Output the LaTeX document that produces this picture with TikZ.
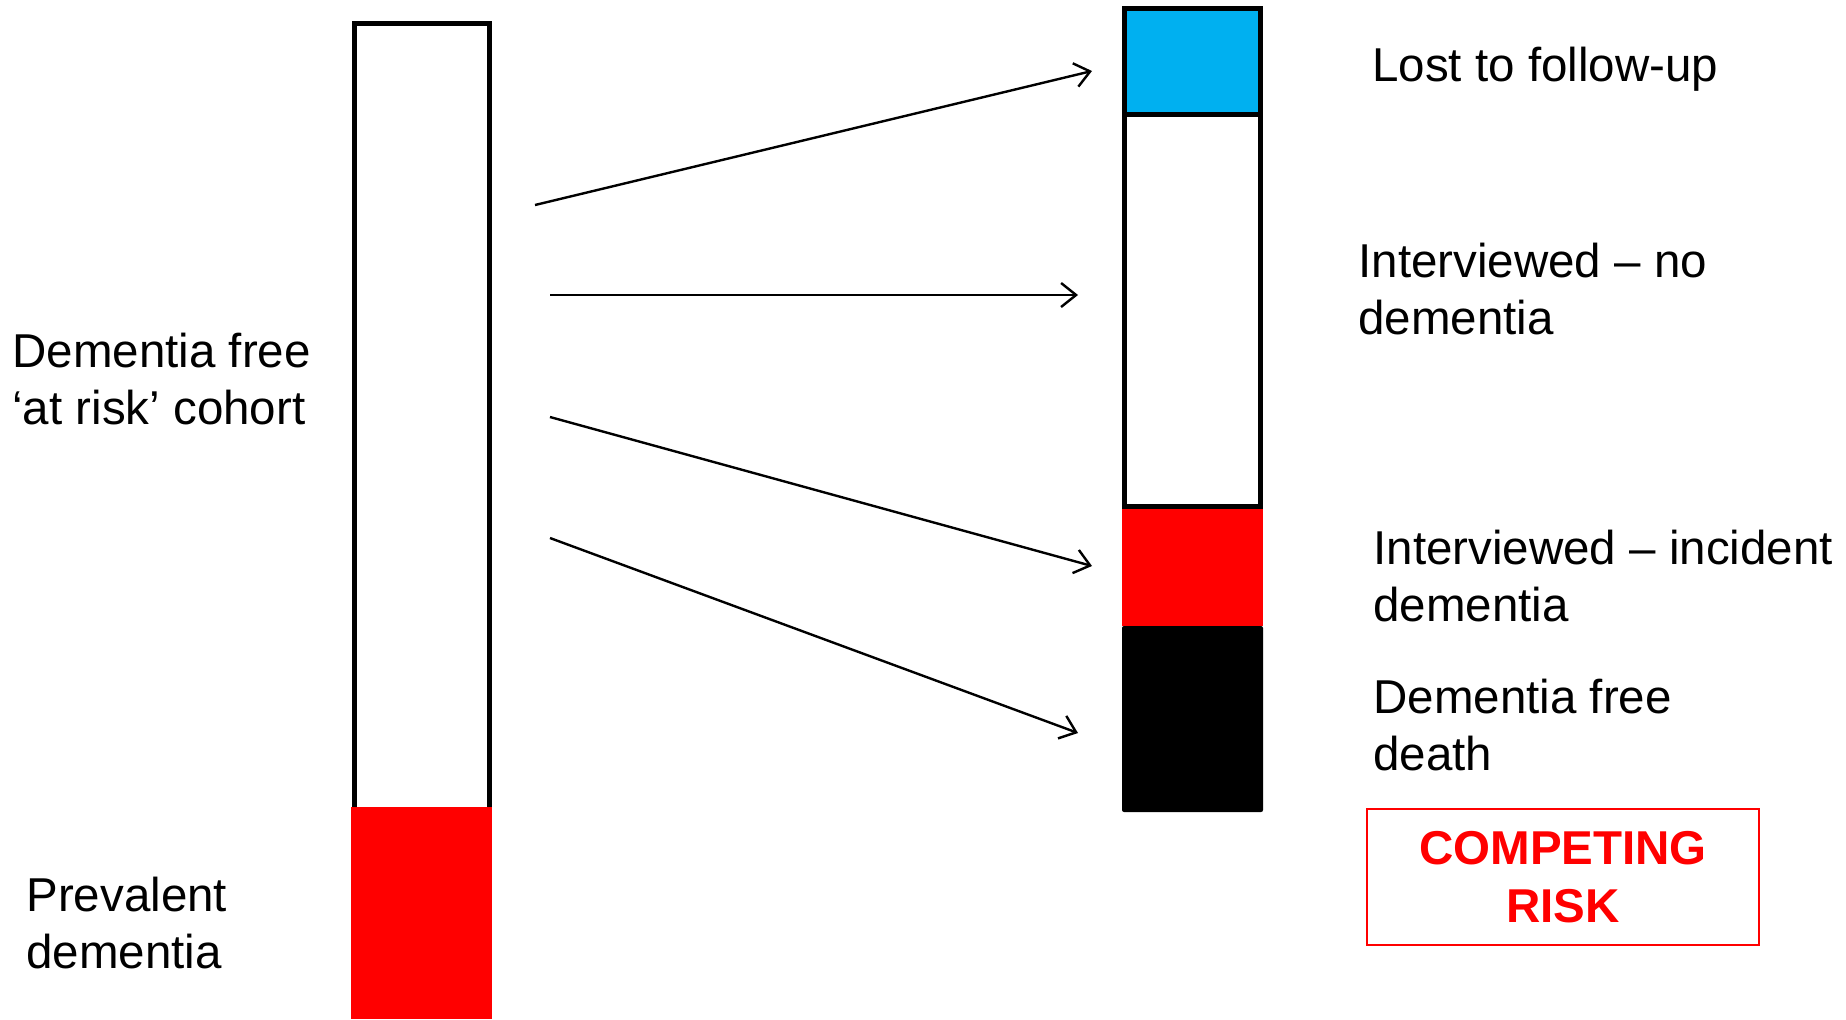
\documentclass[tikz,border=0pt]{standalone}
\usepackage{fontspec}
\setmainfont{Liberation Sans}
\usetikzlibrary{arrows.meta}
\definecolor{lostblue}{HTML}{00B0F0}
\definecolor{pptred}{HTML}{FF0000}
\tikzset{
  % anchored on the baseline of the last line of the label
  label text/.style={anchor=base west, inner sep=0pt, align=left,
    font=\fontsize{23.75}{28.5}\selectfont},
  barframe/.style={draw=black, line width=2.5pt},
  flow/.style={line width=1.2pt, -{Straight Barb[length=7.5pt,width=12pt,line width=1.2pt]}},
  riskbox/.style={draw=pptred, line width=1pt, minimum width=196pt,
    minimum height=68pt, inner sep=0pt}
}
\begin{document}
\begin{tikzpicture}[x=0.5pt, y=-0.5pt]
  \useasboundingbox (0,0) rectangle (1846,1019);

  % cohort bar at baseline: at-risk part and prevalent cases
  \draw[barframe, fill=white] (354.5,23.5) rectangle (489.5,812);
  \fill[pptred] (351,807) rectangle (492,1019);

  % follow-up bar: outcomes
  \fill[pptred] (1122,508) rectangle (1263,626);
  \fill[black, rounded corners=1pt] (1122,626) rectangle (1263,812);
  \draw[barframe, fill=white] (1124.5,114) rectangle (1260.5,506.5);
  \draw[barframe, fill=lostblue] (1124.5,8.5) rectangle (1260.5,114);

  % labels
  \node[label text] (atrisk) at (12,424) {Dementia free\\‘at risk’ cohort};
  \node[label text] (prev) at (26,968) {Prevalent\\dementia};
  \node[label text] (lost) at (1372,81) {Lost to follow-up};
  \node[label text] (nodem) at (1358,334) {Interviewed – no\\dementia};
  \node[label text] (incid) at (1373,621) {Interviewed – incident\\dementia};
  \node[label text] (death) at (1373,770) {Dementia free\\death};

  \node[riskbox, text=pptred, align=center,
        font=\fontsize{23.75}{29}\selectfont\bfseries] (risk) at (1563,877)
        {COMPETING\\RISK};

  % transitions
  \coordinate (s1) at (535,205);  \coordinate (e1) at (1092,71);
  \coordinate (s2) at (550,295);  \coordinate (e2) at (1078,295);
  \coordinate (s3) at (550,417);  \coordinate (e3) at (1092,566);
  \coordinate (s4) at (550,538);  \coordinate (e4) at (1078,733);
  \draw[flow] (s1) -- (e1);
  \draw[flow] (s2) -- (e2);
  \draw[flow] (s3) -- (e3);
  \draw[flow] (s4) -- (e4);
\end{tikzpicture}
\end{document}
